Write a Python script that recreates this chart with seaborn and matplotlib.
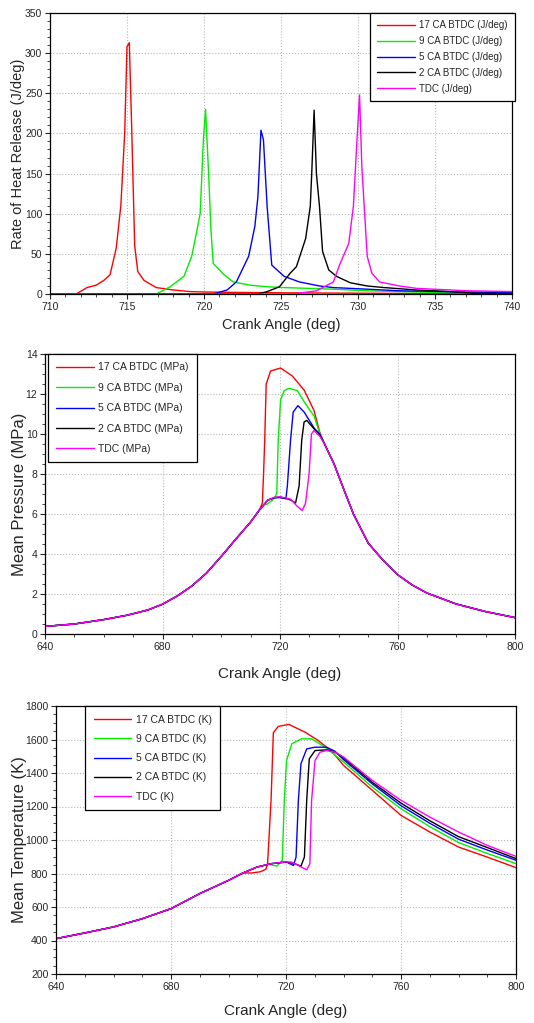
import numpy as np
import pandas as pd
import matplotlib
matplotlib.use("Agg")
import matplotlib.pyplot as plt
from matplotlib.ticker import MultipleLocator
from matplotlib.font_manager import FontProperties
import seaborn as sns

# ---------------- data: heat release rate ----------------
hrr17_x = [710, 711.7, 712.4, 713.0, 713.5, 713.9, 714.3, 714.6, 714.85, 715.0, 715.15, 715.3, 715.5, 715.7, 716.1, 716.9, 718.0, 719.1, 720, 722, 725, 730, 735, 740]
hrr17_y = [0, 0, 8, 11, 17, 24, 57, 110, 200, 308, 313, 210, 60, 28, 17, 8, 5, 3, 2.5, 2, 1.5, 1, 0.5, 0.3]
hrr9_x = [710, 716.9, 717.8, 718.7, 719.2, 719.5, 719.75, 719.96, 720.1, 720.3, 720.45, 720.6, 721.3, 721.9, 723, 724.1, 725.2, 728.4, 730.6, 734.9, 740]
hrr9_y = [0, 0, 9, 22, 47, 75, 100, 192, 230, 150, 80, 38, 24, 15, 11, 9, 8, 6, 4, 2, 1]
hrr5_x = [710, 720.6, 721.5, 722.1, 722.9, 723.3, 723.5, 723.7, 723.86, 724.1, 724.4, 725.2, 726.2, 727.5, 728.4, 730.6, 732.7, 737.1, 740]
hrr5_y = [0, 0, 5, 15, 47, 84, 121, 204, 192, 109, 36, 22, 15, 10, 8, 6, 4, 2.5, 1.7]
hrr2_x = [710, 723.5, 724.1, 724.9, 725.6, 726.0, 726.6, 726.9, 727.0, 727.15, 727.3, 727.5, 727.7, 728.1, 728.6, 729.5, 730.6, 731.7, 733.8, 736, 737.5, 740]
hrr2_y = [0, 0, 3, 9, 26, 34, 69, 109, 152, 229, 150, 109, 53, 30, 22, 14, 10, 8, 5, 3, 1, 0.5]
hrr0_x = [710, 725.8, 727.3, 728.4, 728.8, 729.4, 729.7, 729.9, 730.1, 730.25, 730.6, 730.9, 731.4, 732.7, 733.8, 734.9, 737.1, 740]
hrr0_y = [0, 0, 4, 15, 36, 63, 109, 180, 248, 158, 47, 26, 15, 10, 7, 6, 4, 3]

# ---------------- data: mean pressure ----------------
p_comp_x = [640, 650, 660, 668, 675, 680, 685, 690, 695, 700, 705, 710, 713]
p_comp_y = [0.38, 0.5, 0.72, 0.94, 1.2, 1.49, 1.9, 2.4, 3.05, 3.88, 4.75, 5.6, 6.2]
p_tail_x = [735, 738.4, 741.8, 745, 750, 755, 760, 765, 770, 780, 790, 800]
p_tail_y = [9.55, 8.5, 7.2, 6.0, 4.55, 3.7, 2.97, 2.45, 2.05, 1.5, 1.12, 0.82]
p17_x = [714.0, 714.4, 714.8, 715.3, 716.8, 720.2, 724.2, 728.2, 731.6, 733.5]
p17_y = [6.55, 8.0, 9.7, 12.5, 13.15, 13.3, 12.9, 12.2, 11.17, 10.1]
p9_x = [714.5, 715.7, 717.5, 718.5, 718.9, 719.4, 720.2, 721.4, 723.1, 725.9, 728.7, 731.6, 733.5]
p9_y = [6.45, 6.5, 6.7, 6.9, 7.04, 9.7, 11.7, 12.17, 12.28, 12.17, 11.5, 10.9, 10.05]
p5_x = [715.8, 718, 720, 722, 722.5, 723.6, 724.5, 726.1, 728.2, 731.6, 733.5]
p5_y = [6.69, 6.8, 6.82, 6.76, 7.4, 9.7, 11.1, 11.42, 11.1, 10.3, 10.0]
p2_x = [715.8, 718, 720, 722, 723.6, 725.3, 726.5, 727.4, 728.2, 729.1, 731.6, 733.5]
p2_y = [6.69, 6.82, 6.85, 6.78, 6.7, 6.55, 7.4, 9.7, 10.6, 10.68, 10.26, 9.95]
p0_x = [715.8, 718, 720, 722, 723.6, 725.9, 727.6, 728.7, 729.9, 730.7, 731.6, 732.7, 733.5]
p0_y = [6.69, 6.83, 6.86, 6.8, 6.74, 6.38, 6.17, 6.55, 8.0, 10.0, 10.18, 10.0, 9.9]

# ---------------- data: mean temperature ----------------
t_comp_x = [640, 650, 660, 670, 680, 690, 700, 705]
t_comp_y = [411, 445, 481, 530, 590, 680, 759, 803]
t17_x = [708, 711, 713, 713.6, 714.2, 714.8, 715.6, 717.3, 721, 726.6, 731.2, 735.9, 740, 750, 760, 770, 780, 790, 800]
t17_y = [803, 810, 825, 860, 1050, 1236, 1640, 1678, 1690, 1644, 1594, 1530, 1446, 1297, 1147, 1048, 958, 898, 835]
t9_x = [710, 714, 716.8, 718.7, 719.4, 720.2, 722, 725.4, 728.9, 733.6, 740, 750, 760, 770, 780, 790, 800]
t9_y = [839, 855, 844, 878, 1236, 1475, 1574, 1604, 1604, 1554, 1466, 1316, 1187, 1080, 985, 920, 859]
t5_x = [710, 715, 720.2, 722.6, 723.5, 724.3, 725.2, 727.2, 730.1, 734.1, 737, 740, 750, 760, 770, 780, 790, 800]
t5_y = [839, 859, 868, 848, 898, 1236, 1455, 1544, 1554, 1554, 1530, 1480, 1335, 1205, 1100, 1005, 940, 879]
t2_x = [710, 715, 720, 723.1, 725.2, 726.4, 727.2, 728.1, 730.1, 734.1, 737, 740, 750, 760, 770, 780, 790, 800]
t2_y = [839, 859, 869, 858, 844, 898, 1236, 1485, 1534, 1538, 1525, 1490, 1345, 1220, 1115, 1020, 955, 889]
t0_x = [710, 715, 720, 722, 725.4, 727.2, 728.3, 728.9, 730.1, 731.8, 734.1, 737, 740, 750, 760, 770, 780, 790, 800]
t0_y = [839, 859, 869, 868, 838, 822, 858, 1236, 1475, 1524, 1534, 1525, 1496, 1356, 1237, 1137, 1048, 968, 902]

series_names = ["17 CA BTDC", "9 CA BTDC", "5 CA BTDC", "2 CA BTDC", "TDC"]
colors = ["#ff0000", "#00ee00", "#0000ff", "#000000", "#ff00ff"]

def build(xs, ys, unit):
    frames = []
    for name, x, y in zip(series_names, xs, ys):
        frames.append(pd.DataFrame({"angle": x, "value": y, "series": f"{name} ({unit})"}))
    return pd.concat(frames, ignore_index=True)

df_hrr = build([hrr17_x, hrr9_x, hrr5_x, hrr2_x, hrr0_x],
               [hrr17_y, hrr9_y, hrr5_y, hrr2_y, hrr0_y], "J/deg")
df_p = build([p_comp_x + p17_x + p_tail_x, p_comp_x + p9_x + p_tail_x, p_comp_x + p5_x + p_tail_x,
              p_comp_x + p2_x + p_tail_x, p_comp_x + p0_x + p_tail_x],
             [p_comp_y + p17_y + p_tail_y, p_comp_y + p9_y + p_tail_y, p_comp_y + p5_y + p_tail_y,
              p_comp_y + p2_y + p_tail_y, p_comp_y + p0_y + p_tail_y], "MPa")
df_t = build([t_comp_x + t17_x, t_comp_x + t9_x, t_comp_x + t5_x, t_comp_x + t2_x, t_comp_x + t0_x],
             [t_comp_y + t17_y, t_comp_y + t9_y, t_comp_y + t5_y, t_comp_y + t2_y, t_comp_y + t0_y], "K")

sns.set_style("ticks")
plt.rcParams["font.family"] = ["Liberation Sans", "DejaVu Sans"]

fig = plt.figure(figsize=(5.34, 10.23), dpi=100)
W, H = 534, 1023

def make_ax(l, t, r, b):
    return fig.add_axes([l / W, 1 - b / H, (r - l) / W, (b - t) / H])

ax1 = make_ax(50, 13, 512, 294)
ax2 = make_ax(45, 354, 515, 634)
ax3 = make_ax(56, 706, 516, 974)

def draw(ax, df):
    labels = list(df["series"].unique())
    pal = dict(zip(labels, colors))
    sns.lineplot(data=df, x="angle", y="value", hue="series", palette=pal,
                 estimator=None, sort=False, linewidth=1.0, ax=ax, legend=True)

def style(ax, xlim, ylim, xmaj, xmin, ymaj, ymin):
    ax.set_xlim(*xlim)
    ax.set_ylim(*ylim)
    ax.xaxis.set_major_locator(MultipleLocator(xmaj))
    ax.xaxis.set_minor_locator(MultipleLocator(xmin))
    ax.yaxis.set_major_locator(MultipleLocator(ymaj))
    ax.yaxis.set_minor_locator(MultipleLocator(ymin))
    ax.grid(True, which="major", linestyle=":", color="#b8b8b8", linewidth=0.8)
    ax.tick_params(which="major", direction="out", length=3.5, width=0.8, labelsize=7.5, pad=2)
    ax.tick_params(which="minor", direction="out", length=2, width=0.6)
    for s in ax.spines.values():
        s.set_visible(True)
        s.set_linewidth(0.9)
        s.set_color("black")

def legend(ax, anchor, loc, size, spacing, hl, bpad):
    h, l = ax.get_legend_handles_labels()
    lg = ax.legend(h, l, loc=loc, bbox_to_anchor=anchor, borderaxespad=0,
                   prop=FontProperties(family=["Liberation Sans"], size=size),
                   frameon=True, fancybox=False, edgecolor="black", framealpha=1,
                   handlelength=hl, handletextpad=0.4, labelspacing=spacing, borderpad=bpad)
    lg.get_frame().set_linewidth(0.9)

draw(ax1, df_hrr)
style(ax1, (710, 740), (0, 350), 5, 1, 50, 10)
ax1.set_xlabel("Crank Angle (deg)", fontsize=10.5)
ax1.set_ylabel("Rate of Heat Release (J/deg)", fontsize=10.5)
ax1.xaxis.set_label_coords(0.5, -0.085)
ax1.yaxis.set_label_coords(-0.054, 0.5)
legend(ax1, (1.006, 1.0), "upper right", 7.0, 0.6, 3.9, 0.75)

draw(ax2, df_p)
style(ax2, (640, 800), (0, 14), 40, 10, 2, 0.5)
ax2.set_xlabel("Crank Angle (deg)", fontsize=11)
ax2.set_ylabel("Mean Pressure (MPa)", fontsize=12)
ax2.xaxis.set_label_coords(0.5, -0.118)
ax2.yaxis.set_label_coords(-0.038, 0.5)
legend(ax2, (0.006, 1.0), "upper left", 7.5, 1.0, 3.6, 0.8)

draw(ax3, df_t)
style(ax3, (640, 800), (200, 1800), 40, 10, 200, 50)
ax3.set_xlabel("Crank Angle (deg)", fontsize=11)
ax3.set_ylabel("Mean Temperature (K)", fontsize=12)
ax3.xaxis.set_label_coords(0.5, -0.112)
ax3.yaxis.set_label_coords(-0.063, 0.5)
legend(ax3, (0.063, 1.0), "upper left", 7.5, 0.88, 3.6, 0.85)

fig.savefig("out.png", dpi=100)
